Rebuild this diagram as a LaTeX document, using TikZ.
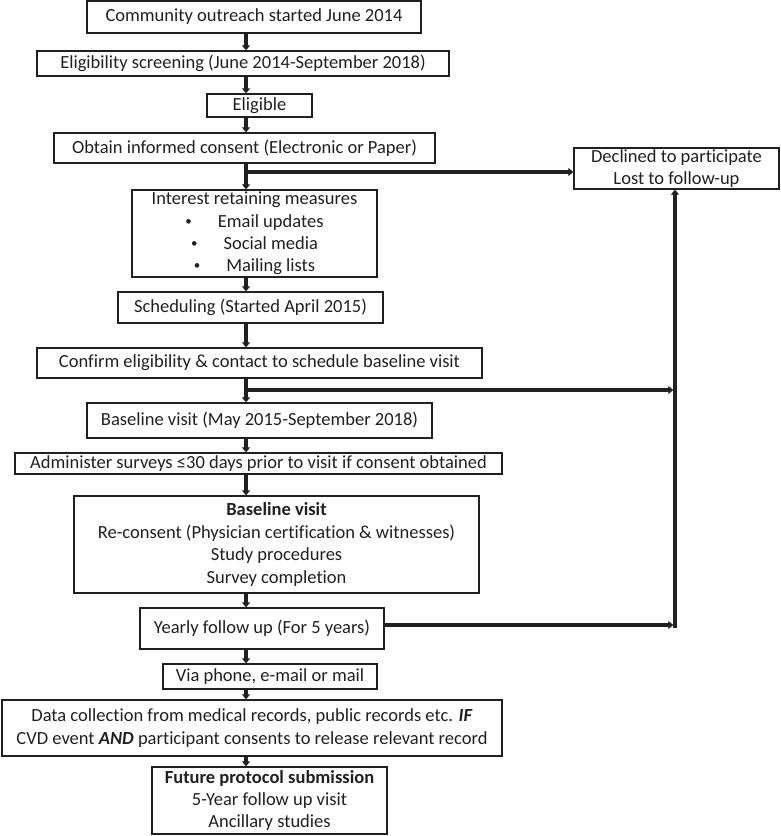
\documentclass[tikz,border=0pt]{standalone}
\usepackage{fontspec}
\setmainfont{Carlito}[Ligatures=NoCommon]
\usetikzlibrary{arrows.meta}
\definecolor{ink}{HTML}{231F20}
\newcommand{\smbul}{\raisebox{2pt}{\fontsize{13}{13}\selectfont\textbullet}}
\begin{document}
\begin{tikzpicture}[x=1pt,y=1pt,
  box/.style={draw=ink, line width=1.3pt, inner sep=0pt, align=center, text=ink,
    font=\fontsize{18.5}{22.4}\selectfont},
  conn/.style={draw=ink, line width=3.4pt, -{Triangle[length=5pt,width=8pt]}}]
\useasboundingbox (0,0) rectangle (781,-836);

\node[box, minimum width=334, minimum height=32] (out) at (254,-17) {Community outreach started June 2014};
\node[box, minimum width=412, minimum height=25] (elig) at (243,-63.5) {Eligibility screening (June 2014-September 2018)};
\node[box, minimum width=105, minimum height=23] (eligible) at (259.5,-105.5) {Eligible};
\node[box, minimum width=381, minimum height=30] (consent) at (244.5,-148) {Obtain informed consent (Electronic or Paper)};
\node[box, minimum width=245, minimum height=87] (interest) at (254.5,-233.5) {Interest retaining measures\\
  \smbul\hspace{26pt}Email updates\\
  \smbul\hspace{26pt}Social media\\
  \smbul\hspace{26pt}Mailing lists};
\node[box, minimum width=265, minimum height=31] (sched) at (250.5,-307.5) {Scheduling (Started April 2015)};
\node[box, minimum width=445, minimum height=30] (confirm) at (259.5,-363) {Confirm eligibility \& contact to schedule baseline visit};
\node[box, minimum width=345, minimum height=35] (bvisit) at (259.5,-420.5) {Baseline visit (May 2015-September 2018)};
\node[box, minimum width=487, minimum height=21] (admin) at (258.5,-463.5) {Administer surveys ≤30 days prior to visit if consent obtained};
\node[box, minimum width=405, minimum height=97] (base) at (276.5,-544.5) {\textbf{Baseline visit}\\
  Re-consent (Physician certification \& witnesses)\\
  Study procedures\\
  Survey completion};
\node[box, minimum width=244, minimum height=41] (yearly) at (262,-628.5) {Yearly follow up (For 5 years)};
\node[box, minimum width=214, minimum height=25] (via) at (270,-676.5) {Via phone, e-mail or mail};
\node[box, minimum width=500, minimum height=56] (data) at (252,-728) {Data collection from medical records, public records etc. \textbf{\textit{IF}}\\
  CVD event \textbf{\textit{AND}} participant consents to release relevant record};
\node[box, minimum width=235, minimum height=67] (future) at (269.5,-800.5) {\textbf{Future protocol submission}\\
  5-Year follow up visit\\
  Ancillary studies};
\node[box, minimum width=205, minimum height=41] (declined) at (676.5,-168.5) {Declined to participate\\Lost to follow-up};

\coordinate (ax) at (246,0);
\coordinate (b1) at (246,-172);
\coordinate (b2) at (246,-390);
\coordinate (v) at (675,-390);
\coordinate (b3) at (384,-625);
\coordinate (vb) at (675,-628);

\draw[conn] (out.south -| ax) -- (elig.north -| ax);
\draw[conn] (elig.south -| ax) -- (eligible.north -| ax);
\draw[conn] (eligible.south -| ax) -- (consent.north -| ax);
\draw[conn] (consent.south -| ax) -- (interest.north -| ax);
\draw[conn] (interest.south -| ax) -- (sched.north -| ax);
\draw[conn] (sched.south -| ax) -- (confirm.north -| ax);
\draw[conn] (confirm.south -| ax) -- (bvisit.north -| ax);
\draw[conn] (bvisit.south -| ax) -- (admin.north -| ax);
\draw[conn] (admin.south -| ax) -- (base.north -| ax);
\draw[conn] (base.south -| ax) -- (yearly.north -| ax);
\draw[conn] (yearly.south -| ax) -- (via.north -| ax);
\draw[conn] (via.south -| ax) -- (data.north -| ax);
\draw[conn] (data.south -| ax) -- (future.north -| ax);

\draw[conn] (b1) -- (b1 -| declined.west);
\draw[conn] (b2) -- ([xshift=-1.7pt]v);
\draw[conn] (b3) -- ([xshift=-1.7pt]b3 -| v);
\draw[conn] (vb) -- (vb |- declined.south);
\end{tikzpicture}
\end{document}
